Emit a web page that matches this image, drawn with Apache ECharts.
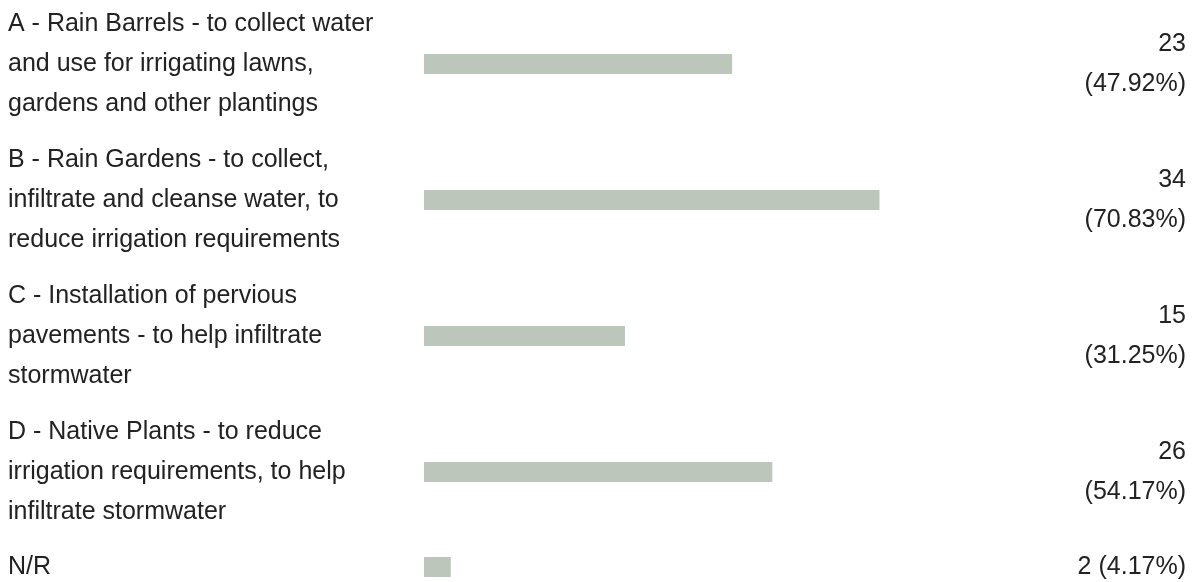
<!DOCTYPE html>
<html>
<head>
<meta charset="utf-8">
<script src="https://cdn.jsdelivr.net/npm/echarts@6/dist/echarts.min.js"></script>
<style>
  html, body { margin: 0; padding: 0; background: #fff; }
  #chart { width: 1196px; height: 582px; }
</style>
</head>
<body>
<div id="chart"></div>
<script>
// categories (main block + the N/R row)
var categories = [
  'A - Rain Barrels - to collect water\nand use for irrigating lawns,\ngardens and other plantings',
  'B - Rain Gardens - to collect,\ninfiltrate and cleanse water, to\nreduce irrigation requirements',
  'C - Installation of pervious\npavements - to help infiltrate\nstormwater',
  'D - Native Plants - to reduce\nirrigation requirements, to help\ninfiltrate stormwater'
];
var counts = [23, 34, 15, 26];
var percents = ['47.92%', '70.83%', '31.25%', '54.17%'];

var nrCategory = ['N/R'];
var nrCounts = [2];
var nrPercents = ['4.17%'];

var totalResponses = 48;

var chart = echarts.init(document.getElementById('chart'));

var textStyle = {
  color: '#222',
  fontFamily: "'Liberation Sans', Arial, sans-serif",
  fontSize: 25,
  lineHeight: 40
};

function leftAxis(gridIndex, data) {
  return {
    type: 'category',
    gridIndex: gridIndex,
    data: data,
    inverse: true,
    axisLine: { show: false },
    axisTick: { show: false },
    splitLine: { show: false },
    axisLabel: Object.assign({ align: 'left', margin: 416 }, textStyle)
  };
}

function rightAxis(gridIndex, labels) {
  return {
    type: 'category',
    gridIndex: gridIndex,
    position: 'right',
    data: labels,
    inverse: true,
    axisLine: { show: false },
    axisTick: { show: false },
    splitLine: { show: false },
    axisLabel: Object.assign({ align: 'right', margin: 119 }, textStyle)
  };
}

function valueAxis(gridIndex) {
  return {
    type: 'value',
    gridIndex: gridIndex,
    min: 0,
    max: totalResponses,
    show: false
  };
}

var mainLabels = counts.map(function (c, i) { return c + '\n(' + percents[i] + ')'; });
var nrLabels = nrCounts.map(function (c, i) { return c + ' (' + nrPercents[i] + ')'; });

var option = {
  animation: false,
  grid: [
    { left: 424, right: 129, top: -4, height: 544, outerBoundsMode: 'none' },
    { left: 424, right: 129, top: 552, height: 30, outerBoundsMode: 'none' }
  ],
  xAxis: [valueAxis(0), valueAxis(1)],
  yAxis: [
    leftAxis(0, categories),
    rightAxis(0, mainLabels),
    leftAxis(1, nrCategory),
    rightAxis(1, nrLabels)
  ],
  series: [
    {
      type: 'bar',
      xAxisIndex: 0,
      yAxisIndex: 0,
      data: counts,
      barWidth: 20,
      itemStyle: { color: '#bcc6bb' }
    },
    {
      type: 'bar',
      xAxisIndex: 1,
      yAxisIndex: 2,
      data: nrCounts,
      barWidth: 20,
      itemStyle: { color: '#bcc6bb' }
    }
  ]
};

chart.setOption(option);
window.addEventListener('resize', function () { chart.resize(); });
</script>
</body>
</html>
